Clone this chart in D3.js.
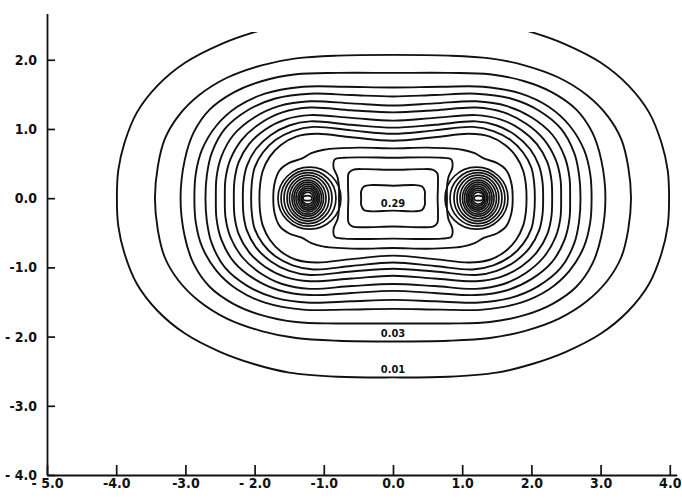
<!DOCTYPE html>
<html><head><meta charset="utf-8">
<script src="https://cdn.jsdelivr.net/npm/d3@7"></script>
<style>
body{margin:0;background:#fff;}
svg{display:block;}
.tick text,.lbl{font-family:"DejaVu Sans Condensed","DejaVu Sans",sans-serif;font-stretch:condensed;font-weight:bold;fill:#111;}
</style></head><body>
<svg id="chart" width="682" height="500"></svg>
<script>
// Axis ticks and their printed labels
const xTicks = [-5, -4, -3, -2, -1, 0, 1, 2, 3, 4];
const xTickLabels = ["- 5.0", "-4.0", "-3.0", "- 2.0", "-1.0", "0.0", "1.0", "2.0", "3.0", "4.0"];
const yTicks = [2, 1, 0, -1, -2, -3, -4];
const yTickLabels = ["2.0", "1.0", "0.0", "-1.0", "- 2.0", "-3.0", "- 4.0"];

// Density contour levels (outer envelope to the bond centre)
const levels = [0.01, 0.03, 0.05, 0.07, 0.09, 0.11, 0.13, 0.15, 0.17, 0.19, 0.21, 0.23, 0.25, 0.27, 0.29];

// One quadrant of each contour (x >= 0, y >= 0), from the top (x = 0) round to the axis (y = 0).
// The density is symmetric about both axes, so the rest of each loop is mirrored.
const q001 = [[0,2.59],[0.8,2.58],[1.5,2.52],[2.0,2.40],[2.5,2.22],[3.0,1.96],[3.4,1.63],[3.7,1.24],[3.88,0.8],[3.97,0.4],[3.99,0]];
const q003 = [[0,2.07],[0.8,2.06],[1.4,2.02],[1.9,1.92],[2.4,1.74],[2.8,1.49],[3.1,1.19],[3.3,0.85],[3.4,0.45],[3.44,0]];
const q005 = [[0,1.81],[0.8,1.81],[1.4,1.79],[1.9,1.69],[2.3,1.53],[2.65,1.28],[2.88,0.95],[3.01,0.55],[3.07,0]];
const q007 = [[0,1.60],[0.7,1.61],[1.3,1.61],[1.85,1.51],[2.25,1.32],[2.55,1.05],[2.76,0.70],[2.85,0.35],[2.87,0]];
const q009 = [[0,1.47],[0.6,1.49],[1.2,1.51],[1.7,1.44],[2.1,1.27],[2.43,1.00],[2.62,0.65],[2.69,0.33],[2.71,0]];
const q011 = [[0,1.34],[0.6,1.37],[1.2,1.40],[1.65,1.33],[2.0,1.17],[2.3,0.92],[2.48,0.60],[2.55,0.30],[2.56,0]];
const q013 = [[0,1.24],[0.6,1.27],[1.2,1.31],[1.6,1.24],[1.92,1.08],[2.18,0.85],[2.35,0.56],[2.42,0.28],[2.43,0]];
const q015 = [[0,1.12],[0.6,1.16],[1.2,1.20],[1.55,1.14],[1.85,0.99],[2.08,0.78],[2.23,0.52],[2.29,0.26],[2.30,0]];
const q017 = [[0,1.02],[0.6,1.06],[1.2,1.11],[1.5,1.05],[1.77,0.91],[1.98,0.71],[2.11,0.47],[2.16,0.24],[2.17,0]];
const q019 = [[0,0.93],[0.6,0.98],[1.15,1.03],[1.45,0.97],[1.7,0.84],[1.88,0.66],[2.0,0.44],[2.04,0.22],[2.05,0]];
const q021 = [[0,0.83],[0.6,0.88],[1.1,0.93],[1.4,0.89],[1.62,0.77],[1.78,0.60],[1.88,0.40],[1.92,0.20],[1.93,0]];
const q023 = [[0,0.72],[0.5,0.73],[1.0,0.70],[1.18,0.65],[1.32,0.57],[1.5,0.51],[1.64,0.40],[1.71,0.22],[1.73,0]];
const q025 = [[0,0.585],[0.4,0.59],[0.7,0.585],[0.84,0.56],[0.86,0.45],[0.80,0.30],[0.78,0.15],[0.78,0]];
const q027 = [[0,0.41],[0.4,0.42],[0.58,0.41],[0.64,0.36],[0.65,0.20],[0.645,0]];
const q029 = [[0,0.18],[0.3,0.19],[0.42,0.17],[0.46,0.10],[0.46,0]];
const quadrants = [q001, q003, q005, q007, q009, q011, q013, q015, q017, q019, q021, q023, q025, q027, q029];

// Closed contours around the right-hand nucleus (the left one is its mirror image):
// centre, horizontal and vertical half-widths
const ringCx = [1.207, 1.221, 1.228, 1.228, 1.232, 1.232, 1.232, 1.232, 1.228, 1.228, 1.228, 1.232, 1.236];
const ringRx = [0.455, 0.397, 0.347, 0.303, 0.264, 0.228, 0.199, 0.170, 0.145, 0.123, 0.101, 0.083, 0.065];
const ringRy = [0.448, 0.405, 0.368, 0.332, 0.296, 0.260, 0.231, 0.202, 0.173, 0.145, 0.116, 0.087, 0.036];

// Printed contour labels
const labelLevels = [0.01, 0.03, 0.29];

const svg = d3.select("#chart");
const x = d3.scaleLinear().domain([-5, 4.1]).range([47, 676.7]);
const y = d3.scaleLinear().domain([-4, 2.67]).range([475, 13.4]);

// clip region of the plotted field
svg.append("clipPath").attr("id", "field")
  .append("rect")
  .attr("x", x(-5)).attr("y", y(2.40))
  .attr("width", x(4.1) - x(-5)).attr("height", y(-4) - y(2.40));

function fullLoop(q) {
  const right = q.concat(q.slice(0, -1).reverse().map(([a, b]) => [a, -b]));
  const left = right.slice(1, -1).reverse().map(([a, b]) => [-a, b]);
  return right.concat(left);
}

const line = d3.line()
  .x(d => x(d[0])).y(d => y(d[1]))
  .curve(d3.curveCatmullRomClosed.alpha(0.5));

const field = svg.append("g").attr("clip-path", "url(#field)")
  .attr("fill", "none").attr("stroke", "#111").attr("stroke-width", 1.9)
  .attr("stroke-linejoin", "round");

field.selectAll("path.contour")
  .data(quadrants.map((q, i) => ({ level: levels[i], pts: fullLoop(q) })))
  .join("path")
  .attr("class", "contour")
  .attr("d", d => line(d.pts));

const rings = [];
ringCx.forEach((c, i) => {
  rings.push({ cx: c, rx: ringRx[i], ry: ringRy[i] });
  rings.push({ cx: -c, rx: ringRx[i], ry: ringRy[i] });
});
field.selectAll("ellipse.ring")
  .data(rings)
  .join("ellipse")
  .attr("class", "ring")
  .attr("stroke-width", 1.7)
  .attr("cx", d => x(d.cx))
  .attr("cy", y(0))
  .attr("rx", d => x(d.cx + d.rx) - x(d.cx))
  .attr("ry", d => y(0) - y(d.ry));

// contour value labels
svg.selectAll("text.lbl")
  .data(labelLevels)
  .join("text")
  .attr("class", "lbl")
  .attr("font-size", 11)
  .attr("text-anchor", "middle")
  .attr("x", x(0))
  .attr("y", d => {
    const q = quadrants[levels.indexOf(d)];
    return d === 0.29 ? y(0) + 9 : y(-q[0][1]) - 4;
  })
  .text(d => d.toFixed(2));

// axes
const xAxis = d3.axisBottom(x)
  .tickValues(xTicks)
  .tickFormat((d, i) => xTickLabels[i])
  .tickSizeInner(-10).tickSizeOuter(0).tickPadding(3);
const yAxis = d3.axisLeft(y)
  .tickValues(yTicks)
  .tickFormat((d, i) => yTickLabels[i])
  .tickSizeInner(-8).tickSizeOuter(0).tickPadding(10);

const gx = svg.append("g").attr("transform", `translate(0,${y(-4)})`).call(xAxis);
const gy = svg.append("g").attr("transform", `translate(${x(-5)},0)`).call(yAxis);
[gx, gy].forEach(g => {
  g.select(".domain").attr("stroke", "#111").attr("stroke-width", 1.8);
  g.selectAll(".tick line").attr("stroke", "#111").attr("stroke-width", 1.7);
  g.selectAll(".tick text").attr("font-size", 14);
});
</script>
</body></html>
